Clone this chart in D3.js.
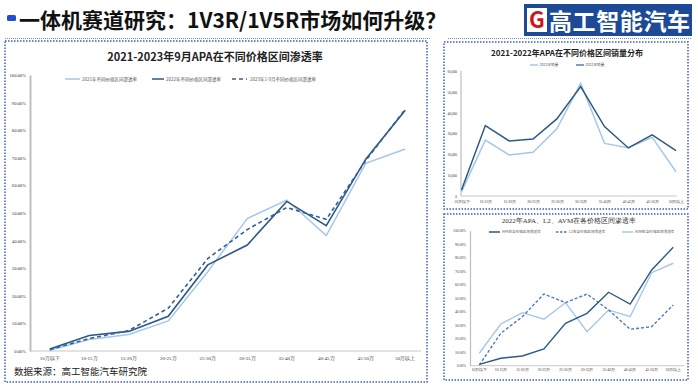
<!DOCTYPE html>
<html><head><meta charset="utf-8">
<script src="https://cdn.jsdelivr.net/npm/d3@7"></script>
<style>
html,body{margin:0;padding:0;background:#fff;}
svg{display:block;font-family:"Noto Sans CJK SC","Noto Sans",sans-serif;}
</style></head>
<body><svg id="c" width="698" height="387"></svg>
<script>
// ---------- data ----------
const categories = ["10万以下","10-15万","15-20万","20-25万","25-30万","30-35万","35-40万","40-45万","45-50万","50万以上"];
// left chart: APA penetration (%)
const apa2021 = [0.3, 4.2, 6.0, 10.9, 28.7, 48.0, 54.7, 41.8, 68.0, 73.2];
const apa2022 = [0.7, 5.6, 7.1, 12.6, 31.2, 38.4, 54.2, 45.4, 69.5, 87.2];
const apa2023 = [0.5, 4.5, 7.4, 15.5, 33.5, 44.0, 52.0, 47.7, 69.0, 87.6];
const leftSeriesNames = ["2021年不同价格区间渗透率","2022年不同价格区间渗透率","2023年1-9月不同价格区间渗透率"];
const pctTicks = [0,10,20,30,40,50,60,70,80,90,100];
// top-right: APA sales
const sales2021 = [2000, 27000, 19800, 21100, 32400, 54400, 25400, 23300, 28300, 11700];
const sales2022 = [2900, 34000, 26600, 27500, 37200, 52800, 33500, 23200, 29500, 21900];
const salesTicks = [0,10000,20000,30000,40000,50000,60000];
const salesNames = ["2021年销量","2022年销量"];
// bottom-right: 2022 APA / L2 / AVM penetration (%)
const pen2022APA = [1.0, 5.5, 7.2, 12.4, 31.4, 38.8, 54.4, 45.7, 70.9, 87.7];
const pen2022L2  = [0.5, 24.0, 36.3, 53.1, 46.7, 53.1, 41.3, 27.0, 28.9, 45.0];
const pen2022AVM = [9.2, 30.9, 39.3, 34.4, 46.7, 25.2, 41.3, 36.3, 68.9, 75.9];
const brNames = ["APA在各价格区间渗透率","L2在各价格区间渗透率","AVM在各价格区间渗透率"];

const DARK="#2d5985", LIGHT="#a4c7ea", DASH="#34609a", DASH2="#4a7cc0";
const svg = d3.select("#c");

// ---------- header ----------
svg.append("rect").attr("x",7).attr("y",15).attr("width",9).attr("height",6).attr("rx",1.5).attr("fill","#1f4fd1");
svg.append("text").attr("x",19).attr("y",28).attr("font-size",21).attr("font-weight","bold").attr("fill","#111")
  .text("一体机赛道研究：1V3R/1V5R市场如何升级？");
svg.append("line").attr("x1",5).attr("x2",430).attr("y1",38.5).attr("y2",38.5).attr("stroke","#7f8fb8").attr("stroke-width",1).attr("stroke-dasharray","1,1");
svg.append("line").attr("x1",448).attr("x2",692).attr("y1",38.5).attr("y2",38.5).attr("stroke","#7f8fb8").attr("stroke-width",1).attr("stroke-dasharray","1,1");
// logo
svg.append("rect").attr("x",524).attr("y",4).attr("width",168).attr("height",32).attr("fill","#1d4a96");
svg.append("rect").attr("x",527).attr("y",8).attr("width",20).attr("height",24).attr("fill","#fff");
svg.append("text").attr("x",537).attr("y",28).attr("text-anchor","middle").attr("font-size",22).attr("font-weight","bold").attr("fill","#d0121b").text("G");
svg.append("text").attr("x",549).attr("y",30).attr("font-size",23).attr("font-weight","bold").attr("fill","#fff").attr("textLength",141).text("高工智能汽车");

// ---------- panel borders ----------
function border(x,y,w,h){
  svg.append("rect").attr("x",x).attr("y",y).attr("width",w).attr("height",h)
    .attr("fill","none").attr("stroke","#3f5fbf").attr("stroke-width",1.5).attr("stroke-dasharray","1.5,1.5");
}
border(5,41,422,341);
border(444,42,244,167);
border(444,214,244,166);

function styleAxis(g, fs){
  g.selectAll("text").attr("font-size",fs).attr("fill","#333").attr("font-family","'Liberation Serif','DejaVu Serif',serif");
}
function legendItem(x1,x2,y,color,dash,label,fs,tx){
  svg.append("line").attr("x1",x1).attr("x2",x2).attr("y1",y).attr("y2",y).attr("stroke",color).attr("stroke-width",1.5).attr("stroke-dasharray",dash||null);
  svg.append("text").attr("x",tx).attr("y",y+fs*0.35).attr("font-size",fs).attr("fill","#555").text(label);
}

// ---------- left chart ----------
{
  svg.append("text").attr("x",215).attr("y",61).attr("text-anchor","middle").attr("font-size",11).attr("font-weight","bold").attr("fill","#222")
    .text("2021-2023年9月APA在不同价格区间渗透率");
  legendItem(65,80,79,LIGHT,null,leftSeriesNames[0],4.5,82);
  legendItem(152,164,79,DARK,null,leftSeriesNames[1],4.5,166);
  legendItem(232,247,79,DASH,"4,3",leftSeriesNames[2],4.5,250);

  const x = d3.scaleBand().domain(categories).range([30,425]);
  const y = d3.scaleLinear().domain([0,100]).range([351,75]);
  const ya = svg.append("g").attr("transform","translate(30,0)")
    .call(d3.axisLeft(y).tickValues(pctTicks).tickSize(0).tickPadding(4).tickFormat(d=>d3.format(".2f")(d)+"%"));
  ya.select(".domain").attr("stroke","#bfbfbf").attr("stroke-width",2);
  styleAxis(ya,4.6);
  const xa = svg.append("g").attr("transform","translate(0,351)")
    .call(d3.axisBottom(x).tickSize(0).tickPadding(5));
  xa.select(".domain").attr("stroke","#c8c8c8").attr("stroke-width",1.2).attr("d","M30,0H421");
  styleAxis(xa,5);

  const line = d3.line().x((d,i)=>x(categories[i])+x.bandwidth()/2).y(d=>y(d));
  svg.append("path").datum(apa2021).attr("d",line).attr("fill","none").attr("stroke",LIGHT).attr("stroke-width",1.5);
  svg.append("path").datum(apa2022).attr("d",line).attr("fill","none").attr("stroke",DARK).attr("stroke-width",1.6);
  svg.append("path").datum(apa2023).attr("d",line).attr("fill","none").attr("stroke",DASH).attr("stroke-width",1.6).attr("stroke-dasharray","4,3");

  svg.append("text").attr("x",14).attr("y",375).attr("font-size",9.5).attr("fill","#222").text("数据来源：高工智能汽车研究院");
}

// ---------- top-right chart ----------
{
  svg.append("text").attr("x",567).attr("y",56).attr("text-anchor","middle").attr("font-size",8).attr("font-weight","bold").attr("fill","#222")
    .text("2021-2022年APA在不同价格区间销量分布");
  legendItem(530,538,65,LIGHT,null,salesNames[0],3.6,539.5);
  legendItem(576,584,65,"#5a7ea6",null,salesNames[1],3.6,585.5);

  const x = d3.scalePoint().domain(categories).range([461.5,676]);
  const y = d3.scaleLinear().domain([0,60000]).range([196,71.7]);
  const ya = svg.append("g").attr("transform","translate(461,0)")
    .call(d3.axisLeft(y).tickValues(salesTicks).tickSize(0).tickPadding(4));
  ya.select(".domain").attr("stroke","#bfbfbf").attr("stroke-width",1.2).attr("d","M0,71H0V196");
  styleAxis(ya,3.5);
  const xa = svg.append("g").attr("transform","translate(0,196)")
    .call(d3.axisBottom(x).tickSize(0).tickPadding(4));
  xa.select(".domain").attr("stroke","#c8c8c8").attr("stroke-width",1).attr("d","M461,0H677");
  styleAxis(xa,3.6);

  const line = d3.line().x((d,i)=>x(categories[i])).y(d=>y(d));
  svg.append("path").datum(sales2021).attr("d",line).attr("fill","none").attr("stroke",LIGHT).attr("stroke-width",1.5);
  svg.append("path").datum(sales2022).attr("d",line).attr("fill","none").attr("stroke",DARK).attr("stroke-width",1.5);
}

// ---------- bottom-right chart ----------
{
  svg.append("text").attr("x",569).attr("y",222.5).attr("text-anchor","middle").attr("font-size",7).attr("fill","#333")
    .attr("font-family","'Liberation Serif','DejaVu Serif',serif").text("2022年APA、L2、AVM在各价格区间渗透率");
  legendItem(489,500,232,DARK,null,brNames[0],3.6,502);
  legendItem(556,567,232,DASH2,"2.5,1.5",brNames[1],3.6,569);
  legendItem(622,633,232,LIGHT,null,brNames[2],3.6,635);

  const x = d3.scaleBand().domain(categories).range([468.5,684]);
  const y = d3.scaleLinear().domain([0,100]).range([365.7,230.7]);
  const ya = svg.append("g").attr("transform","translate(470,0)")
    .call(d3.axisLeft(y).tickValues(pctTicks).tickSize(0).tickPadding(4).tickFormat(d=>d3.format(".2f")(d)+"%"));
  ya.select(".domain").attr("stroke","#bfbfbf").attr("stroke-width",1.2);
  styleAxis(ya,3.6);
  const xa = svg.append("g").attr("transform","translate(0,365.7)")
    .call(d3.axisBottom(x).tickSize(0).tickPadding(3));
  xa.select(".domain").attr("stroke","#c8c8c8").attr("stroke-width",1).attr("d","M470,0H684");
  styleAxis(xa,3.6);

  const line = d3.line().x((d,i)=>x(categories[i])+x.bandwidth()/2).y(d=>y(d));
  svg.append("path").datum(pen2022AVM).attr("d",line).attr("fill","none").attr("stroke",LIGHT).attr("stroke-width",1.4);
  svg.append("path").datum(pen2022L2).attr("d",line).attr("fill","none").attr("stroke",DASH2).attr("stroke-width",1.4).attr("stroke-dasharray","3,2");
  svg.append("path").datum(pen2022APA).attr("d",line).attr("fill","none").attr("stroke",DARK).attr("stroke-width",1.4);
}
</script></body></html>
